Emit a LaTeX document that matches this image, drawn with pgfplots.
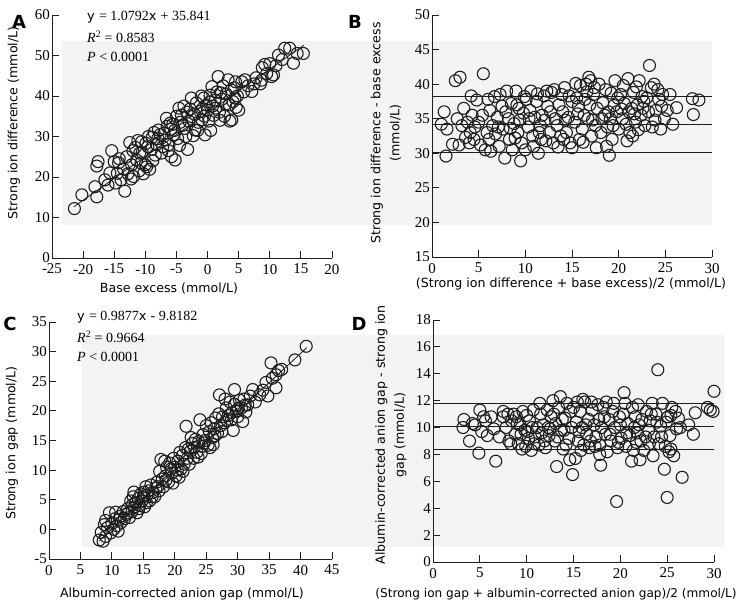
\documentclass[border=0pt]{standalone}
\usepackage{pgfplots}
\pgfplotsset{compat=1.18}
\usepackage{fontspec}
\setmainfont{DejaVu Sans}
\newfontfamily\numfont{Liberation Serif}
\newfontfamily\lblfont{DejaVu Sans}
\definecolor{bggray}{RGB}{243,243,243}
\definecolor{ink}{RGB}{30,30,30}
\pgfplotsset{
  panel/.style={
    scale only axis,
    axis lines=left,
    axis line style={-, line width=0.8pt, ink},
    tick align=inside,
    major tick length=7pt,
    tick style={line width=0.8pt, ink},
    enlargelimits=false,
    clip=false,
    tick label style={font=\numfont\fontsize{15}{15}\selectfont},
    /pgf/number format/assume math mode=true,
    xticklabel style={yshift=-2.5pt},
    yticklabel style={xshift=1.5pt},
  },
  pts/.style={only marks, mark=o, mark size=6pt, mark options={line width=1.1pt, draw=ink}},
  reg/.style={no marks, line width=0.8pt, ink},
}
\def\lf{\lblfont\fontsize{12.6}{19}\selectfont}
\def\nf{\numfont\fontsize{14}{16}\selectfont}
\def\vf{\lblfont\fontsize{13}{16}\selectfont}
\begin{document}
\begin{tikzpicture}
\path[use as bounding box] (0,0) rectangle (745pt,608pt);
\fill[bggray] (62pt,383pt) rectangle (712pt,567pt);
\fill[bggray] (82pt,61pt) rectangle (724pt,273pt);

% ---------------- Panel A ----------------
\begin{axis}[panel, at={(52pt,350pt)}, anchor=south west, width=280pt, height=243pt,
  xmin=-25, xmax=20, ymin=0, ymax=60,
  xtick={-25,-20,...,20}, ytick={0,10,...,60}]
\addplot[pts] coordinates {
(-21.4,12.2) (-20.2,15.6) (-18.1,17.6) (-17.8,15.1) (-17.6,23.8) (-17.8,22.7) (-16.5,19.3) (-15.7,21.0) (-15.4,26.5) (-14.5,20.9) (-14.3,23.5) (-14.8,18.5) (-16.0,18.0) (-13.3,16.5) (-13.9,19.3) (-13.5,22.0) (-15.0,23.8) (-14.2,24.5)
(-12.8,20.8) (-12.2,23.0) (-11.9,20.1) (-11.6,27.3) (-11.4,24.2) (-11.0,21.5) (-10.9,25.9) (-10.6,28.7) (-10.3,20.8) (-10.0,23.0) (-9.8,22.5) (-9.5,30.0) (-9.3,21.9) (-9.0,26.8) (-8.8,24.0) (-8.4,25.4) (-8.2,28.0) (-8.0,29.5) (-12.0,26.5) (-11.2,29.0) (-10.5,26.0) (-9.6,27.5) (-8.6,31.0) (-12.5,28.5)
(-7.9,31.6) (-7.4,25.9) (-7.2,27.5) (-6.8,29.1) (-6.5,32.5) (-6.2,28.0) (-6.0,33.3) (-5.8,25.0) (-5.5,30.4) (-5.3,31.5) (-5.2,24.2) (-5.0,35.0) (-4.8,29.5) (-4.5,27.8) (-4.2,35.3) (-4.0,32.8) (-3.7,32.0) (-3.5,30.0) (-3.2,26.8) (-3.0,33.8) (-7.6,30.5) (-6.6,34.5) (-5.6,33.0) (-4.6,37.0) (-3.8,37.5)
(-2.8,36.8) (-2.5,34.9) (-2.3,30.2) (-2.0,31.6) (-1.8,38.3) (-1.5,33.5) (-1.2,36.2) (-0.9,34.1) (-0.6,39.5) (-0.4,30.4) (-0.2,37.8) (0.0,36.5) (0.2,33.8) (0.4,40.2) (0.7,42.3) (0.8,37.5) (1.0,35.2) (1.2,39.0) (1.5,41.0) (1.7,44.8) (1.9,36.0) (-1.0,40.0) (-2.6,39.5) (0.5,31.5) (-0.8,36.9)
(2.3,39.2) (2.5,42.5) (2.7,35.0) (3.0,40.5) (3.3,44.0) (3.5,37.8) (3.9,34.1) (4.1,38.6) (4.3,42.0) (4.5,43.5) (4.8,40.0) (5.0,36.5) (5.5,43.5) (5.8,41.0) (2.0,34.0) (3.6,33.8) (4.4,39.5)
(6.5,42.5) (7.1,41.1) (7.8,44.5) (8.5,43.0) (8.7,43.9) (8.8,47.0) (9.5,45.5) (10.0,48.0) (10.3,44.8) (10.6,45.2) (11.4,50.1) (12.0,49.0) (12.4,51.8) (13.2,51.8) (13.8,48.1) (14.4,50.5) (15.4,50.5) (11.0,47.5) (9.2,47.8)
(-13.0,25.0) (-12.3,19.5) (-10.7,23.5) (-9.9,28.3) (-8.9,29.8) (-7.0,30.8) (-6.3,26.5) (-5.9,31.8) (-4.4,33.5) (-3.3,36.0) (-2.1,35.5) (-1.6,31.5) (-0.5,35.0) (0.3,38.5) (1.3,37.0) (2.1,40.8) (2.9,38.0) (3.8,41.5) (4.6,37.2) (6.0,44.0) (7.5,43.0)
};
\addplot[reg] coordinates {(-21.5,12.64) (15.5,52.57)};
\end{axis}

% ---------------- Panel B ----------------
\begin{axis}[panel, at={(432pt,351pt)}, anchor=south west, width=280pt, height=242pt,
  xmin=0, xmax=30, ymin=15, ymax=50,
  xtick={0,5,...,30}, ytick={15,20,...,50}]
\addplot[reg] coordinates {(0,38.2) (30,38.2)};
\addplot[reg] coordinates {(0,34.2) (30,34.2)};
\addplot[reg] coordinates {(0,30.15) (30,30.15)};
\addplot[pts] coordinates {
(1.0,34.2) (1.3,36.0) (1.6,33.5) (1.5,29.6) (2.2,31.3) (2.5,40.5) (3.0,41.0) (2.7,35.0) (3.4,36.5) (3.6,32.3) (3.8,34.5) (4.2,38.3) (4.0,31.5) (4.5,32.0) (4.3,35.5) (4.8,37.7) (4.6,33.8) (2.9,31.2)
(5.2,31.2) (5.5,41.5) (5.4,35.5) (5.7,30.5) (5.9,33.0) (6.2,36.2) (6.3,30.3) (6.5,34.0) (6.8,32.8) (7.0,35.2) (7.2,31.0) (7.5,36.8) (7.6,33.5) (7.8,29.3) (8.0,39.0) (8.2,35.0) (8.3,32.0) (8.5,37.2) (8.6,30.5) (8.8,34.3) (9.0,39.0) (9.2,33.0) (9.3,36.5) (9.5,28.9) (9.6,31.5) (9.8,35.8) (9.9,38.2) (10.0,30.5) (6.0,37.8) (7.3,38.5) (8.9,32.2) (5.0,34.5)
(10.3,33.8) (10.5,36.2) (10.6,39.0) (10.8,32.5) (11.0,35.2) (11.2,37.5) (11.4,30.0) (11.6,34.0) (11.8,35.5) (12.0,38.3) (12.2,31.8) (12.4,36.8) (12.6,33.0) (12.8,38.8) (13.0,31.5) (13.2,35.0) (13.4,34.0) (13.6,37.0) (13.8,32.5) (14.0,36.0) (14.2,39.5) (14.4,33.0) (14.6,35.2) (14.8,31.5) (15.0,37.5) (15.0,30.8) (10.9,31.0) (12.1,34.8) (13.1,39.2) (14.3,34.8) (11.5,33.0)
(15.3,34.5) (15.5,38.0) (15.7,36.8) (15.9,39.8) (16.1,33.5) (16.3,35.5) (16.5,40.0) (16.7,35.0) (16.9,37.0) (17.1,32.5) (17.3,38.5) (17.5,34.0) (17.7,36.5) (17.9,40.0) (18.1,33.0) (18.3,37.3) (18.5,35.5) (18.7,31.0) (18.9,36.0) (19.0,29.7) (19.2,38.7) (19.4,34.0) (19.6,40.5) (19.8,36.0) (20.0,33.5) (15.8,32.0) (16.8,41.0) (17.6,30.8) (18.6,39.2) (19.3,32.0) (16.4,37.8) (17.2,34.8)
(20.2,38.5) (20.4,35.0) (20.6,37.2) (20.8,34.2) (21.0,40.8) (21.2,33.0) (21.4,36.5) (21.6,38.8) (21.8,34.5) (22.0,37.0) (22.2,40.5) (22.4,35.5) (22.6,36.5) (22.8,34.0) (23.0,38.0) (23.3,42.7) (23.5,39.5) (23.6,33.8) (23.8,40.0) (24.0,36.2) (24.3,37.8) (24.5,33.5) (24.7,38.5) (24.9,35.0) (20.5,39.8) (21.5,32.5) (22.5,38.2) (23.2,36.0)
(25.2,36.2) (25.8,34.2) (26.2,36.6) (27.9,37.9) (28.6,37.7) (28.0,35.6) (25.5,38.5)
(6.7,38.2) (7.9,36.0) (9.4,34.8) (10.1,37.8) (11.3,38.6) (12.3,39.0) (13.5,30.9) (14.7,38.3) (15.6,35.7) (16.6,38.9) (17.4,39.5) (18.2,35.0) (19.1,35.0) (19.9,38.0) (20.3,36.4) (21.1,36.0) (21.9,39.6) (22.7,37.5) (23.9,34.8) (24.6,36.8) (20.9,31.8) (22.1,33.4) (18.8,33.8) (16.2,31.6) (14.1,32.0) (12.7,36.0) (11.7,32.0) (10.4,35.0) (9.1,37.0) (8.4,33.6) (7.1,33.8) (6.1,32.0) (4.1,33.0) (3.2,34.0) (24.2,39.2) (21.7,35.7) (17.0,40.5) (15.4,40.1) (13.9,38.5) (19.5,36.9)
};
\end{axis}

% ---------------- Panel C ----------------
\begin{axis}[panel, at={(49pt,49pt)}, anchor=south west, width=283pt, height=237pt,
  xmin=0, xmax=45, ymin=-5, ymax=35,
  xtick={0,5,...,45}, ytick={-5,0,...,35}]
\addplot[pts] coordinates {
(8.0,-1.8) (8.3,-0.5) (8.6,-2.0) (8.8,0.8) (9.0,-1.2) (9.3,0.3) (9.6,2.8) (9.8,-0.6) (10.0,1.0) (10.3,0.0) (10.5,1.8) (10.8,0.6) (11.0,-0.3) (11.3,2.2) (11.5,1.2) (11.8,3.0) (12.0,1.8) (9.0,1.5) (10.6,2.9)
(12.3,2.5) (12.5,3.5) (12.8,2.0) (13.0,4.8) (13.2,3.0) (13.4,5.5) (13.6,3.8) (13.8,4.5) (14.0,2.8) (14.2,5.2) (14.4,4.0) (14.6,6.0) (14.8,4.8) (15.0,5.5) (15.2,3.8) (15.4,7.2) (15.6,5.8) (15.8,6.5) (16.0,4.8) (16.2,7.5) (16.5,6.2) (16.8,5.5) (17.0,7.0) (13.5,6.3) (15.5,4.5)
(17.2,8.0) (17.5,6.5) (17.8,11.8) (18.0,8.5) (18.2,7.2) (18.5,9.0) (18.7,10.5) (19.0,8.0) (19.2,11.2) (19.5,9.5) (19.7,7.8) (20.0,10.5) (20.2,9.0) (20.5,11.5) (20.7,8.8) (21.0,10.2) (21.2,12.5) (21.5,11.0) (21.8,17.4) (21.7,13.8) (22.0,12.0) (18.4,11.5) (19.8,12.0) (20.8,13.0) (17.6,9.8)
(22.3,11.0) (22.5,13.2) (22.8,14.5) (23.0,12.0) (23.3,15.2) (23.5,13.0) (23.8,14.8) (24.0,18.5) (24.2,12.8) (24.5,16.0) (24.8,15.0) (25.0,17.5) (25.3,14.2) (25.5,16.5) (25.8,18.0) (26.0,15.5) (26.1,14.3) (26.3,17.0) (26.5,18.8) (26.8,16.2) (27.0,19.5) (27.1,22.7) (22.6,15.5) (24.4,14.0) (25.6,13.8)
(27.3,17.5) (27.6,19.0) (27.9,18.0) (28.2,20.5) (28.5,19.2) (28.8,21.5) (29.0,18.5) (29.3,16.7) (29.5,23.6) (29.5,21.1) (29.8,20.0) (30.0,19.0) (30.3,21.8) (30.6,20.5) (31.0,22.0) (31.3,19.8) (31.6,21.0) (32.0,22.5) (32.4,23.6) (32.8,21.5) (33.5,22.7) (28.0,22.0) (30.8,18.2)
(34.0,23.5) (34.5,24.8) (35.3,28.1) (35.5,25.5) (36.1,26.1) (36.1,23.9) (36.5,26.8) (37.0,27.0) (39.1,28.6) (40.9,30.9) (34.8,22.5)
(11.2,1.7) (12.6,2.8) (13.3,4.2) (14.3,3.5) (15.1,6.3) (16.4,5.5) (17.3,7.2) (18.6,8.3) (19.4,10.2) (20.4,10.0) (21.3,9.8) (22.1,13.5) (23.1,13.8) (23.7,12.2) (24.7,14.6) (26.4,15.8) (27.5,16.5) (28.3,18.4) (29.1,19.7) (31.2,21.0) (30.1,20.4)
};
\addplot[reg] coordinates {(8,-1.92) (41,30.68)};
\end{axis}

% ---------------- Panel D ----------------
\begin{axis}[panel, at={(433pt,46pt)}, anchor=south west, width=281pt, height=242pt,
  xmin=0, xmax=30, ymin=0, ymax=18,
  xtick={0,5,...,30}, ytick={0,2,...,18}]
\addplot[reg] coordinates {(0,11.8) (30,11.8)};
\addplot[reg] coordinates {(0,10.1) (30,10.1)};
\addplot[reg] coordinates {(0,8.4) (30,8.4)};
\addplot[pts] coordinates {
(3.2,10.0) (3.3,10.6) (3.9,9.0) (4.2,10.3) (4.9,8.1) (5.0,11.3) (5.2,9.7) (5.6,10.5) (5.8,9.4) (6.2,10.8) (6.7,7.5) (6.5,9.9) (4.5,10.2) (5.4,10.8)
(7.1,9.3) (7.5,10.8) (7.5,11.2) (7.8,10.0) (8.1,9.0) (8.4,10.5) (8.6,11.0) (8.8,9.5) (8.9,10.8) (9.1,8.8) (9.3,10.2) (9.5,8.4) (9.6,11.2) (9.8,9.8) (10.0,10.9) (10.2,9.2) (8.0,11.0) (9.9,8.6)
(10.3,10.5) (10.5,8.3) (10.7,11.3) (10.9,9.3) (11.1,10.0) (11.3,8.7) (11.5,11.0) (11.6,9.6) (11.8,10.2) (12.0,8.5) (12.2,11.3) (12.4,9.4) (12.6,10.8) (12.8,12.0) (13.0,9.0) (13.1,10.3) (13.2,7.1) (13.4,11.5) (13.6,12.3) (13.7,9.8) (13.9,8.4) (14.1,10.7) (14.3,11.8) (14.5,9.2) (14.6,7.6) (14.8,10.0) (14.9,6.5) (15.0,11.5) (10.8,8.8) (12.5,9.9) (14.2,8.7)
(15.2,7.7) (15.3,10.4) (15.5,9.0) (15.7,11.2) (15.9,10.0) (16.1,8.7) (16.2,11.9) (16.4,9.5) (16.6,10.6) (16.8,9.0) (17.0,11.3) (17.2,10.2) (17.4,9.3) (17.6,11.7) (17.8,8.7) (17.9,7.2) (18.0,10.0) (18.2,11.5) (18.4,9.5) (18.6,8.2) (18.8,10.6) (19.0,9.0) (19.2,11.2) (19.4,10.0) (19.6,4.5) (19.7,8.5) (19.9,10.8) (17.8,8.0) (16.0,12.1) (18.5,11.9) (15.8,8.3)
(20.1,9.2) (20.3,11.0) (20.4,12.6) (20.6,8.6) (20.8,10.3) (21.0,9.4) (21.2,7.5) (21.3,11.5) (21.5,10.0) (21.7,8.9) (21.9,11.7) (22.1,7.6) (22.2,9.0) (22.3,10.6) (22.5,8.3) (22.8,11.2) (23.0,9.8) (23.2,10.5) (23.5,7.9) (23.6,9.3) (23.8,11.0) (24.0,14.3) (24.1,8.8) (24.3,10.1) (24.5,11.8) (24.7,6.9) (24.8,8.6) (25.0,4.8) (20.5,11.8) (21.8,9.6) (23.4,11.8)
(25.1,10.8) (25.2,8.2) (25.3,9.4) (25.5,11.5) (25.7,7.9) (26.0,9.9) (26.2,10.7) (26.6,6.3) (27.3,10.2) (27.8,9.5) (28.0,11.1) (29.3,11.5) (29.6,11.3) (29.9,11.2) (30.0,12.7) (25.4,10.9)
(8.3,8.8) (9.4,9.5) (10.6,10.0) (11.4,11.8) (12.3,10.0) (12.9,11.0) (13.3,9.3) (14.0,9.8) (14.7,11.2) (15.4,11.9) (15.6,9.7) (16.3,10.2) (16.9,11.9) (17.3,8.6) (17.7,10.6) (18.3,10.8) (18.9,9.5) (19.3,11.8) (20.0,10.2) (20.7,9.6) (21.4,8.3) (21.6,10.8) (22.0,10.2) (22.7,9.3) (23.1,8.8) (23.3,11.0) (23.9,10.4) (24.4,9.3) (24.9,10.4) (25.4,8.4) (25.9,11.2) (26.4,10.0) (11.9,9.0) (10.1,9.7) (9.0,10.3) (13.8,10.6) (16.7,8.5) (19.8,8.9)
};
\end{axis}

% ---------------- Text ----------------
\node[font=\lblfont\bfseries\fontsize{18}{18}\selectfont] at (19pt,586pt) {A};
\node[font=\lblfont\bfseries\fontsize{18}{18}\selectfont] at (355pt,586pt) {B};
\node[font=\lblfont\bfseries\fontsize{18}{18}\selectfont] at (10pt,284pt) {C};
\node[font=\lblfont\bfseries\fontsize{18}{18}\selectfont] at (359pt,284pt) {D};

\node[anchor=west, inner sep=0pt] at (87pt,591pt) {\vf y \nf= 1.0792\vf x \nf+ 35.841};
\node[anchor=west, inner sep=0pt] at (87pt,571pt) {\nf\itshape R\upshape\textsuperscript{2} = 0.8583};
\node[anchor=west, inner sep=0pt] at (87pt,551pt) {\nf\itshape P\upshape{} < 0.0001};

\node[anchor=west, inner sep=0pt] at (77pt,291pt) {\vf y \nf= 0.9877\vf x \nf- 9.8182};
\node[anchor=west, inner sep=0pt] at (77pt,271pt) {\nf\itshape R\upshape\textsuperscript{2} = 0.9664};
\node[anchor=west, inner sep=0pt] at (77pt,251pt) {\nf\itshape P\upshape{} < 0.0001};

\node[rotate=90, font=\lf] at (14pt,485pt) {Strong ion difference (mmol/L)};
\node[font=\lf] at (169pt,319pt) {Base excess (mmol/L)};
\node[rotate=90, align=center, font=\lf] at (386pt,475pt) {Strong ion difference - base excess\\(mmol/L)};
\node[font=\lf] at (571pt,324pt) {(Strong ion difference + base excess)/2 (mmol/L)};

\node[rotate=90, font=\lf] at (12pt,165pt) {Strong ion gap (mmol/L)};
\node[font=\lf] at (182pt,14pt) {Albumin-corrected anion gap (mmol/L)};
\node[rotate=90, align=center, font=\lf] at (391pt,173pt) {Albumin-corrected anion gap - strong ion\\gap (mmol/L)};
\node[font=\lblfont\fontsize{12.1}{14}\selectfont] at (556pt,14pt) {(Strong ion gap + albumin-corrected anion gap)/2 (mmol/L)};
\end{tikzpicture}
\end{document}
